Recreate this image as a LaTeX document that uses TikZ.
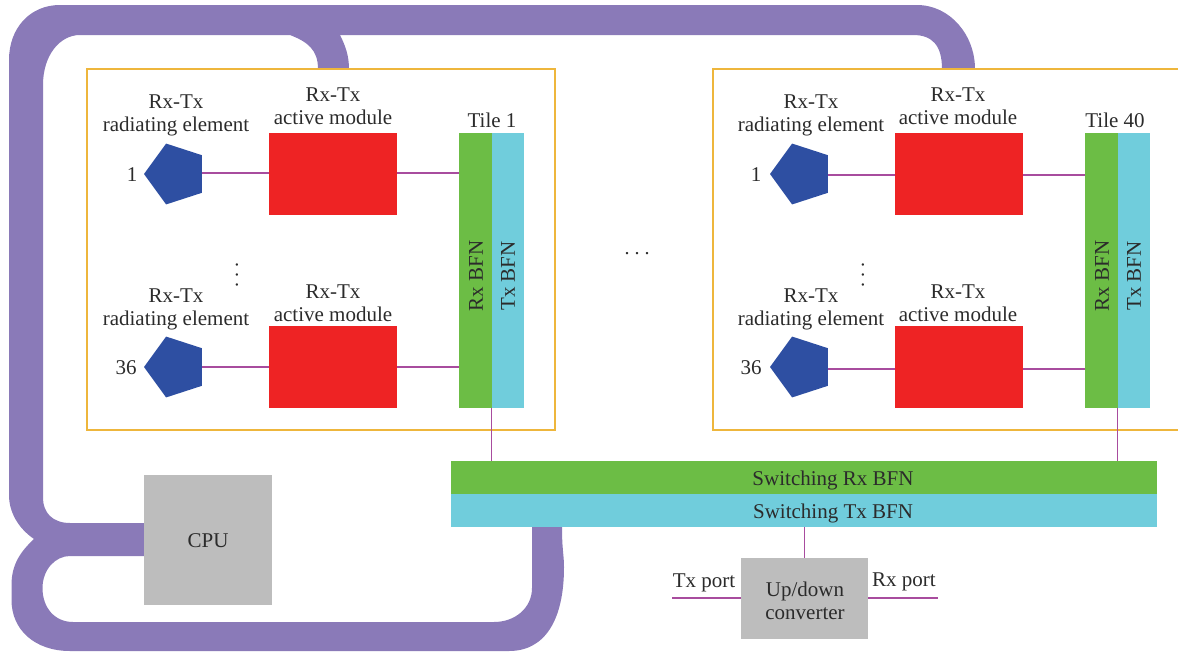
\documentclass[tikz,border=0pt]{standalone}
\usepackage{fontspec}
\setmainfont{Liberation Serif}
\usetikzlibrary{shapes.geometric,calc}
\definecolor{busc}{HTML}{8A7AB8}
\definecolor{goldc}{HTML}{EEB63C}
\definecolor{bluec}{HTML}{2E4FA2}
\definecolor{redc}{HTML}{EE2324}
\definecolor{greenc}{HTML}{6CBD45}
\definecolor{cyanc}{HTML}{70CDDC}
\definecolor{grayc}{HTML}{BDBDBD}
\definecolor{wirec}{HTML}{A84C9E}
\definecolor{txtc}{HTML}{2B2B2B}
\tikzset{
  tilebox/.style={draw=goldc,line width=1.2pt,minimum height=361pt,inner sep=0,outer sep=0},
  elem/.style={regular polygon,regular polygon sides=5,shape border rotate=90,fill=bluec,minimum size=64pt,inner sep=0,outer sep=0},
  module/.style={fill=redc,minimum width=128pt,minimum height=82pt,inner sep=0,outer sep=0},
  bfn/.style={minimum width=32.5pt,minimum height=275pt,inner sep=0,outer sep=0},
  rxb/.style={bfn,fill=greenc},
  txb/.style={bfn,fill=cyanc},
  swb/.style={minimum width=706pt,minimum height=33pt,inner sep=0,outer sep=0},
  unit/.style={fill=grayc,inner sep=0,outer sep=0},
  lab/.style={text=txtc,align=center,inner sep=0,font=\fontsize{21}{23.2}\selectfont},
  wire/.style={draw=wirec,line width=1.3pt},
  dotsl/.style={text=txtc,inner sep=0,font=\fontsize{20}{20}\selectfont}
}
\begin{document}
\begin{tikzpicture}[x=1pt,y=-1pt]
\useasboundingbox (0,0) rectangle (1178,653);
% CPU / tile control bus
\fill[busc] (975,69) .. controls (975,35) and (950,5) .. (917,5) -- (60,5)
  .. controls (30,5) and (9,28) .. (9,60) -- (9,495)
  .. controls (9,512) and (18,528) .. (34,539)
  .. controls (20,552) and (11.5,565) .. (11.5,585) -- (11.5,600)
  .. controls (11.5,630) and (35,651) .. (70,651) -- (509,651)
  .. controls (545,651) and (564,620) .. (564,567)
  .. controls (564,555) and (562,550) .. (562,527) -- (532,527) -- (532,588)
  .. controls (532,608) and (515,622) .. (494,622) -- (73,622)
  .. controls (55,622) and (42.5,608) .. (42.5,588)
  .. controls (42.5,570) and (55,556) .. (70,556) -- (144,556) -- (144,523) -- (70,523)
  .. controls (52,523) and (43,512) .. (43,498) -- (43,85)
  .. controls (43,55) and (60,35) .. (80,35) -- (290,35)
  .. controls (308,42) and (318,50) .. (318,69) -- (349,69)
  .. controls (349,55) and (345,45) .. (340,35) -- (913,35)
  .. controls (932,35) and (942,45) .. (942,69) -- cycle;
% tile frames
\node[tilebox,minimum width=468pt] (tileA) at (321,249.5) {};
\node[tilebox,minimum width=490pt] (tileB) at (958,249.5) {};
% tile 1
\node[elem] (eA1) at (176,174) {};
\node[elem] (eA2) at (176,367) {};
\node[module] (mA1) at (333,174) {};
\node[module] (mA2) at (333,367) {};
\node[rxb] (rxA) at (475.25,270.5) {};
\node[txb] (txA) at (507.75,270.5) {};
% tile 40
\node[elem] (eB1) at (802,174) {};
\node[elem] (eB2) at (802,367) {};
\node[module] (mB1) at (959,174) {};
\node[module] (mB2) at (959,367) {};
\node[rxb] (rxB) at (1101.25,270.5) {};
\node[txb] (txB) at (1133.75,270.5) {};
% switching networks
\node[swb,fill=greenc] (swR) at (804,477.5) {};
\node[swb,fill=cyanc] (swT) at (804,510.5) {};
\node[unit,minimum width=128pt,minimum height=130pt] (cpu) at (208,540) {};
\node[unit,minimum width=127pt,minimum height=81pt] (conv) at (804.5,598.5) {};
% texts on the blocks
\node[lab,rotate=90] (trA) at (476,276) {Rx BFN};
\node[lab,rotate=90] (ttA) at (508,276) {Tx BFN};
\node[lab,rotate=90] (trB) at (1102,276) {Rx BFN};
\node[lab,rotate=90] (ttB) at (1134,276) {Tx BFN};
\node[lab] (tsR) at (833,480) {Switching Rx BFN};
\node[lab] (tsT) at (833,513) {Switching Tx BFN};
\node[lab] (tcpu) at (208,541) {CPU};
\node[lab] (tconv) at (805,600.5) {Up/down\\converter};
% wires
\draw[wire] ([yshift=1pt]eA1.center) ++(26,0) coordinate (a) -- (a -| mA1.west);
\draw[wire] ([yshift=1pt]mA1.east) -- ([yshift=1pt]mA1.east -| rxA.west);
\draw[wire] (eA2.center) ++(26,0) coordinate (b) -- (b -| mA2.west);
\draw[wire] (mA2.east) -- (mA2.east -| rxA.west);
\draw[wire] ([yshift=-1pt]eB1.center) ++(26,0) coordinate (c) -- (c -| mB1.west);
\draw[wire] ([yshift=-1pt]mB1.east) -- ([yshift=-1pt]mB1.east -| rxB.west);
\draw[wire] ([yshift=-2pt]eB2.center) ++(26,0) coordinate (d) -- (d -| mB2.west);
\draw[wire] ([yshift=-2pt]mB2.east) -- ([yshift=-2pt]mB2.east -| rxB.west);
\draw[wire] (rxA.south east) -- (rxA.south east |- swR.north);
\draw[wire] (rxB.south east) -- (rxB.south east |- swR.north);
\draw[wire] (swT.south -| conv.north) -- (conv.north);
\coordinate (txp) at (672,598);
\coordinate (rxp) at (938,598);
\draw[wire] (txp) -- (txp -| conv.west);
\draw[wire] (conv.east |- rxp) -- (rxp);
% labels
\node[lab] (l1) at (176,115.5) {Rx-Tx\\radiating element};
\node[lab] (l2) at (333,106.5) {Rx-Tx\\active module};
\node[lab] (l3) at (176,309.5) {Rx-Tx\\radiating element};
\node[lab] (l4) at (333,303) {Rx-Tx\\active module};
\node[lab] (l5) at (811,115.5) {Rx-Tx\\radiating element};
\node[lab] (l6) at (958,106.5) {Rx-Tx\\active module};
\node[lab] (l7) at (811,309.5) {Rx-Tx\\radiating element};
\node[lab] (l8) at (958,303) {Rx-Tx\\active module};
\node[lab] (t1) at (492,120.5) {Tile 1};
\node[lab] (t2) at (1115,120.5) {Tile 40};
\node[lab] (n1) at (132,175) {1};
\node[lab] (n2) at (126,367.5) {36};
\node[lab] (n3) at (756,175) {1};
\node[lab] (n4) at (751,367.5) {36};
\node[lab] (pt) at (704,583) {Tx port};
\node[lab] (pr) at (904,582) {Rx port};
\node[dotsl] (d1) at (637,254) {.\hspace{5pt}.\hspace{5pt}.};
\node[dotsl,rotate=90] (d2) at (237,275) {.\hspace{5pt}.\hspace{5pt}.};
\node[dotsl,rotate=90] (d3) at (863,275) {.\hspace{5pt}.\hspace{5pt}.};
\end{tikzpicture}
\end{document}
